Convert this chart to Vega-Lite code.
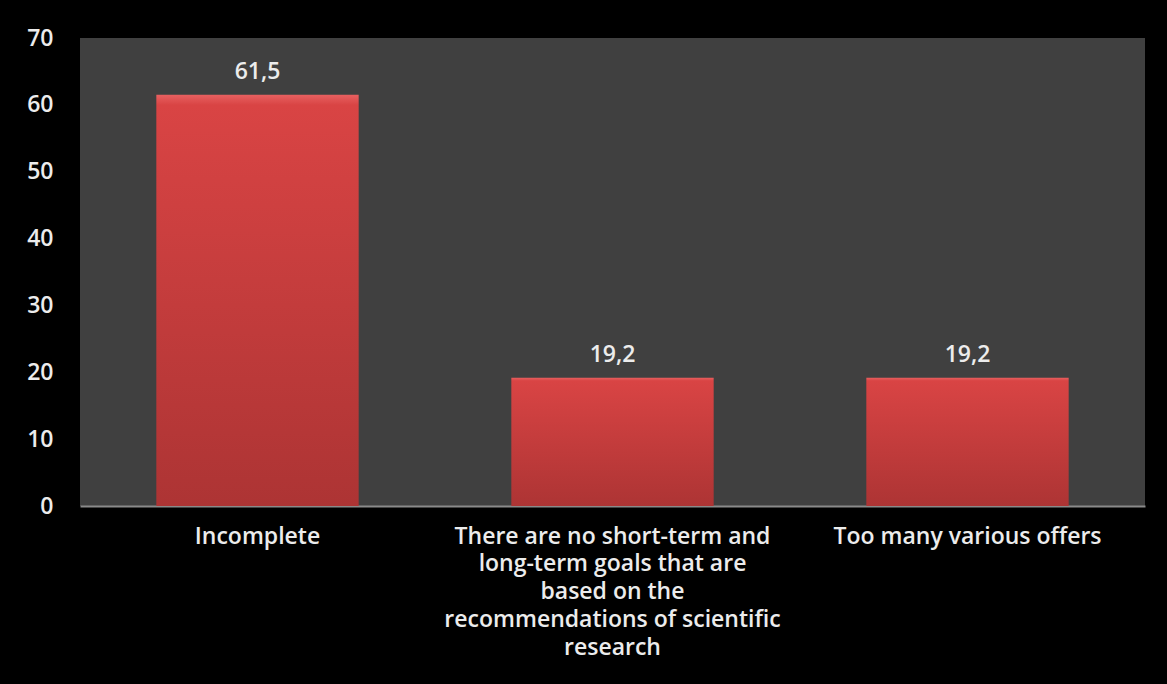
{
  "$schema": "https://vega.github.io/schema/vega-lite/v6.json",
  "autosize": {"type": "none"},
  "width": 1065,
  "height": 468,
  "padding": {"left": 80, "top": 38, "right": 22, "bottom": 178},
  "background": "#000000",
  "config": {
    "locale": {"number": {"decimal": ",", "thousands": ".", "grouping": [3], "currency": ["", " €"]}},
    "view": {"fill": "#404040", "stroke": null},
    "font": "Open Sans"
  },
  "data": {
    "values": [
      {"reason": "Incomplete", "share": 61.5},
      {"reason": "There are no short-term and long-term goals that are based on the recommendations of scientific research", "share": 19.2},
      {"reason": "Too many various offers", "share": 19.2}
    ]
  },
  "encoding": {
    "x": {
      "field": "reason",
      "type": "nominal",
      "sort": null,
      "scale": {"paddingInner": 0.43, "paddingOuter": 0.215},
      "axis": {
        "title": null,
        "labelAngle": 0,
        "ticks": false,
        "domain": true,
        "domainColor": "#8a8a8a",
        "domainWidth": 2,
        "labelColor": "#ececec",
        "labelFontSize": 23,
        "labelFontWeight": 600,
        "labelPadding": 19,
        "labelLineHeight": 27.8,
        "labelLimit": 500,
        "labelExpr": "datum.value == 'Incomplete' ? 'Incomplete' : datum.value == 'Too many various offers' ? 'Too many various offers' : ['There are no short-term and', 'long-term goals that are', 'based on the', 'recommendations of scientific', 'research']"
      }
    },
    "y": {
      "field": "share",
      "type": "quantitative",
      "scale": {"domain": [0, 70], "nice": false},
      "axis": {
        "title": null,
        "values": [0, 10, 20, 30, 40, 50, 60, 70],
        "grid": false,
        "ticks": false,
        "domain": false,
        "labelColor": "#ececec",
        "labelFontSize": 23,
        "labelFontWeight": 600,
        "labelPadding": 27
      }
    }
  },
  "layer": [
    {
      "mark": {
        "type": "bar",
        "color": {
          "gradient": "linear",
          "x1": 0, "y1": 0, "x2": 0, "y2": 1,
          "stops": [
            {"offset": 0, "color": "#e86060"},
            {"offset": 0.025, "color": "#d94444"},
            {"offset": 1, "color": "#ad3434"}
          ]
        }
      }
    },
    {
      "mark": {"type": "text", "baseline": "bottom", "dy": -11, "fontSize": 23, "fontWeight": 600, "color": "#ececec"},
      "encoding": {"text": {"field": "share", "type": "quantitative", "format": ".1f"}}
    }
  ]
}
